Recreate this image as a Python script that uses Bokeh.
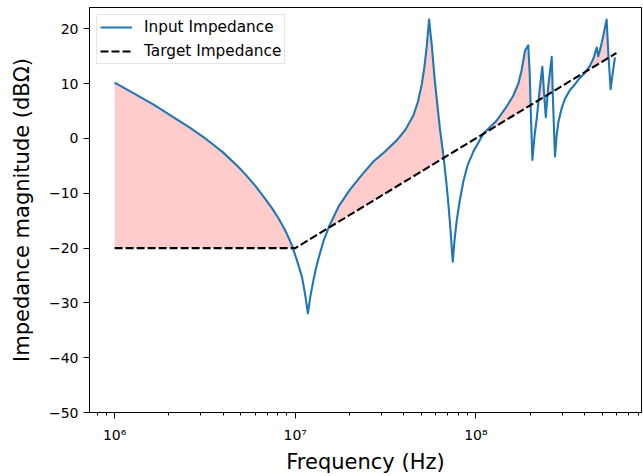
import numpy as np
from bokeh.plotting import figure
from bokeh.models import (FixedTicker, SingleIntervalTicker, CustomJSTickFormatter,
                          Legend, LegendItem)
from bokeh.embed import file_html
from bokeh.resources import INLINE

# ---- data ----
freq_hz = [1.00e6, 1.30e6, 1.68e6, 2.09e6, 2.57e6, 3.18e6, 3.94e6, 4.85e6, 5.28e6, 6.03e6,
           6.82e6, 7.50e6, 8.09e6, 8.61e6, 8.99e6, 9.59e6, 1.023e7, 1.089e7, 1.135e7, 1.175e7,
           1.216e7, 1.262e7, 1.318e7, 1.374e7, 1.445e7, 1.542e7, 1.738e7, 2.014e7, 2.344e7, 2.710e7,
           3.162e7, 3.656e7, 4.074e7, 4.508e7, 4.786e7, 5.012e7, 5.188e7, 5.346e7, 5.508e7, 5.702e7,
           5.888e7, 6.081e7, 6.339e7, 6.607e7, 6.839e7, 7.047e7, 7.244e7, 7.447e7, 7.621e7, 7.834e7,
           8.128e7, 8.531e7, 9.016e7, 9.683e7, 1.102e8, 1.306e8, 1.479e8, 1.611e8, 1.718e8, 1.795e8,
           1.871e8, 1.950e8, 1.986e8, 2.018e8, 2.056e8, 2.113e8, 2.173e8, 2.249e8, 2.333e8, 2.388e8,
           2.438e8, 2.518e8, 2.630e8, 2.679e8, 2.742e8, 2.799e8, 2.864e8, 2.985e8, 3.112e8, 3.311e8,
           3.540e8, 3.758e8, 4.018e8, 4.266e8, 4.467e8, 4.667e8, 4.764e8, 4.920e8, 5.070e8, 5.297e8,
           5.408e8, 5.572e8, 5.728e8, 5.888e8]
input_db = [10.2, 8.1, 6.0, 4.0, 2.1, 0.0, -2.4, -5.2, -6.5, -8.7,
            -11.0, -12.9, -14.6, -16.2, -17.4, -19.5, -22.3, -25.2, -28.5, -31.9,
            -28.6, -25.8, -23.0, -20.8, -18.4, -16.0, -12.4, -9.3, -6.6, -4.2,
            -2.3, -0.3, 1.6, 4.2, 6.8, 9.8, 13.0, 16.8, 21.7, 17.0,
            11.5, 7.0, 1.5, -3.0, -7.5, -12.0, -16.8, -22.5, -18.5, -15.0,
            -11.5, -7.8, -4.8, -2.4, 0.9, 3.3, 5.8, 7.8, 10.0, 12.6,
            16.0, 17.0, 12.0, 4.0, -3.9, 0.5, 3.6, 8.5, 13.1, 8.0,
            3.9, 9.6, 14.9, 6.0, -3.3, 0.5, 3.0, 5.5, 7.2, 8.8,
            9.9, 11.0, 12.0, 13.2, 14.5, 16.6, 15.0, 16.8, 18.7, 21.7,
            15.7, 9.0, 12.0, 14.8]

target_hz = [1e6, 1e7, 6e8]
target_db = [-20.0, -20.0, 15.6]

x_major_ticks = [1e6, 1e7, 1e8]
y_tick_step = 10

# ---- fill region (input above target), with crossing points inserted ----
lf = np.log10(np.array(freq_hz))
yi = np.array(input_db)
yt = np.interp(lf, np.log10(target_hz), target_db)
fx, fy1, fy2 = [], [], []
for i in range(len(lf)):
    if i > 0:
        d0 = yi[i - 1] - yt[i - 1]
        d1 = yi[i] - yt[i]
        if d0 * d1 < 0:
            t = d0 / (d0 - d1)
            lc = lf[i - 1] + t * (lf[i] - lf[i - 1])
            yc = yt[i - 1] + t * (yt[i] - yt[i - 1])
            fx.append(10 ** lc); fy1.append(yc); fy2.append(yc)
    fx.append(10 ** lf[i]); fy1.append(yt[i]); fy2.append(max(yi[i], yt[i]))

p = figure(width=643, height=476, x_axis_type="log",
           x_range=(10 ** 5.861, 10 ** 8.917), y_range=(-50, 23.9),
           output_backend="svg", toolbar_location=None,
           min_border_left=89, min_border_right=2, min_border_top=7, min_border_bottom=60)
p.background_fill_color = "white"
p.border_fill_color = "white"
p.outline_line_color = "black"
p.outline_line_width = 1
p.xgrid.visible = False
p.ygrid.visible = False

p.varea(x=fx, y1=fy1, y2=fy2, fill_color="red", fill_alpha=0.2)
r_in = p.line(freq_hz, input_db, line_color="#1f77b4", line_width=2.1, line_join="round")
r_tg = p.line(target_hz, target_db, line_color="black", line_width=2.1, line_dash="8 3")

# axes
minor = []
for d in [5, 6, 7, 8]:
    for m in range(2, 10):
        minor.append(m * 10 ** d)
p.xaxis.ticker = FixedTicker(ticks=x_major_ticks, minor_ticks=minor)
p.xaxis.formatter = CustomJSTickFormatter(code="""
const sup = {'0':'\u2070','1':'\u00b9','2':'\u00b2','3':'\u00b3','4':'\u2074','5':'\u2075','6':'\u2076','7':'\u2077','8':'\u2078','9':'\u2079','-':'\u207b'};
const e = Math.round(Math.log10(tick));
return '10' + String(e).split('').map(c => sup[c]).join('');
""")
p.yaxis.ticker = SingleIntervalTicker(interval=y_tick_step, num_minor_ticks=0)
p.yaxis.formatter = CustomJSTickFormatter(code="return tick < 0 ? '\u2212' + (-tick) : String(tick);")

for ax in (p.xaxis[0], p.yaxis[0]):
    ax.axis_line_color = "black"
    ax.major_tick_line_color = "black"
    ax.minor_tick_line_color = "black"
    ax.major_tick_in = 0
    ax.major_tick_out = 6
    ax.minor_tick_in = 0
    ax.minor_tick_out = 3
    ax.major_label_text_font = "DejaVu Sans"
    ax.major_label_text_font_size = "14px"
    ax.major_label_text_color = "black"
    ax.axis_label_text_font = "DejaVu Sans"
    ax.axis_label_text_font_size = "21px"
    ax.axis_label_text_font_style = "normal"
    ax.axis_label_text_color = "black"

p.yaxis.minor_tick_line_color = None
p.xaxis.major_label_standoff = 8
p.yaxis.major_label_standoff = 5
p.xaxis.axis_label = "Frequency (Hz)"
p.yaxis.axis_label = "Impedance magnitude (dB\u03a9)"
p.xaxis.axis_label_standoff = 4
p.yaxis.axis_label_standoff = 12

legend = Legend(items=[LegendItem(label="Input Impedance", renderers=[r_in]),
                       LegendItem(label="Target Impedance", renderers=[r_tg])],
                location="top_left")
legend.margin = 7
legend.padding = 3
legend.spacing = 6
legend.glyph_width = 32
legend.glyph_height = 18
legend.label_standoff = 12
legend.label_text_font = "DejaVu Sans"
legend.label_text_font_size = "15.3px"
legend.label_text_color = "black"
legend.border_line_color = "#cccccc"
legend.border_line_width = 1
legend.background_fill_color = "white"
legend.background_fill_alpha = 0.8
p.add_layout(legend)

open("out.html", "w").write(file_html(p, INLINE))
